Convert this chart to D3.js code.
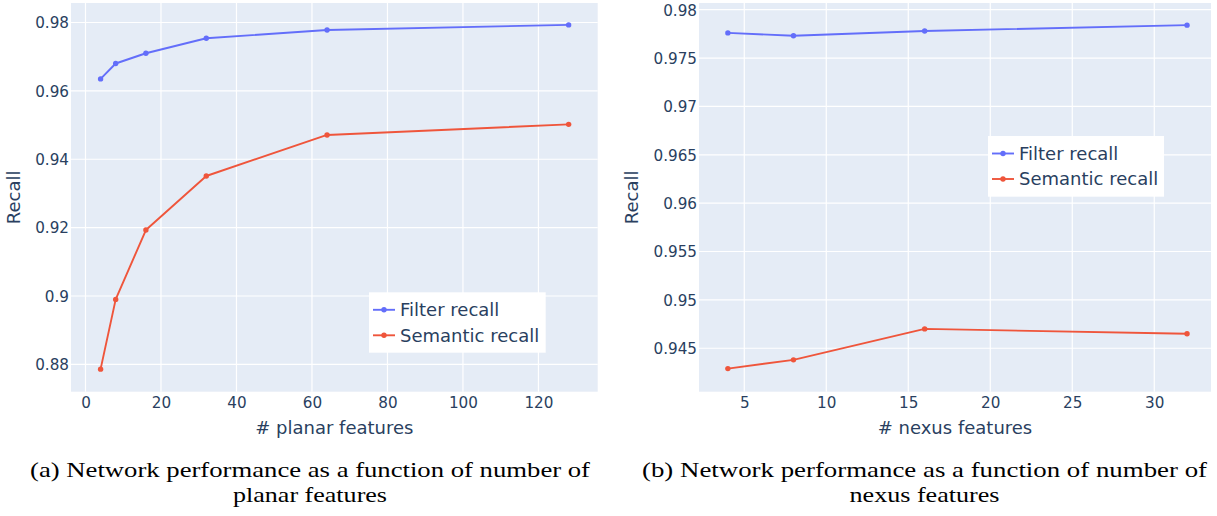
<!DOCTYPE html>
<html>
<head>
<meta charset="utf-8">
<script src="https://cdn.jsdelivr.net/npm/d3@7"></script>
<style>
  html, body { margin: 0; padding: 0; background: #ffffff; }
  svg { display: block; }
</style>
</head>
<body>
<svg id="chart" width="1217" height="516"></svg>
<script>
// ---------- data ----------
const seriesNames = ["Filter recall", "Semantic recall"];

const planarX = [4, 8, 16, 32, 64, 128];
const planarFilter = [0.9635, 0.9680, 0.9710, 0.9754, 0.9778, 0.9793];
const planarSemantic = [0.8786, 0.8990, 0.9193, 0.9351, 0.9471, 0.9502];

const nexusX = [4, 8, 16, 32];
const nexusFilter = [0.9776, 0.9773, 0.9778, 0.9784];
const nexusSemantic = [0.9429, 0.9438, 0.9470, 0.9465];

const planarXTicks = [0, 20, 40, 60, 80, 100, 120];
const planarXTickLabels = ["0", "20", "40", "60", "80", "100", "120"];
const planarYTicks = [0.88, 0.90, 0.92, 0.94, 0.96, 0.98];
const planarYTickLabels = ["0.88", "0.9", "0.92", "0.94", "0.96", "0.98"];

const nexusXTicks = [5, 10, 15, 20, 25, 30];
const nexusXTickLabels = ["5", "10", "15", "20", "25", "30"];
const nexusYTicks = [0.945, 0.95, 0.955, 0.96, 0.965, 0.97, 0.975, 0.98];
const nexusYTickLabels = ["0.945", "0.95", "0.955", "0.96", "0.965", "0.97", "0.975", "0.98"];

const xTitles = ["# planar features", "# nexus features"];
const yTitle = "Recall";
const captionsLine1 = ["(a) Network performance as a function of number of",
                       "(b) Network performance as a function of number of"];
const captionsLine2 = ["planar features", "nexus features"];

// ---------- style ----------
const COLORS = ["#636efa", "#ef553b"];
const BG = "#e5ecf6";
const TXT = "#2a3f5f";
const FONT = "'DejaVu Sans', sans-serif";

const svg = d3.select("#chart");

function panel(cfg) {
  const x = d3.scaleLinear().domain(cfg.xDomain).range([cfg.left, cfg.right]);
  const y = d3.scaleLinear().domain(cfg.yDomain).range([cfg.bottom, cfg.top]);
  const g = svg.append("g");

  g.append("rect")
    .attr("x", cfg.left).attr("y", cfg.top)
    .attr("width", cfg.right - cfg.left).attr("height", cfg.bottom - cfg.top)
    .attr("fill", BG);

  // gridlines
  g.append("g").selectAll("line").data(cfg.xTicks).join("line")
    .attr("x1", d => x(d)).attr("x2", d => x(d))
    .attr("y1", cfg.top).attr("y2", cfg.bottom)
    .attr("stroke", "#fff").attr("stroke-width", 1.2);
  g.append("g").selectAll("line").data(cfg.yTicks).join("line")
    .attr("y1", d => y(d)).attr("y2", d => y(d))
    .attr("x1", cfg.left).attr("x2", cfg.right)
    .attr("stroke", "#fff").attr("stroke-width", 1.2);

  // axes (labels only)
  const xa = g.append("g").attr("transform", `translate(0,${cfg.bottom})`)
    .call(d3.axisBottom(x).tickValues(cfg.xTicks)
      .tickFormat((d, i) => cfg.xTickLabels[i]).tickSize(0));
  xa.select(".domain").remove();
  xa.selectAll("text").attr("y", 11).attr("dy", "0.35em")
    .attr("font-family", FONT).attr("font-size", 15.2).attr("fill", TXT);

  const ya = g.append("g").attr("transform", `translate(${cfg.left},0)`)
    .call(d3.axisLeft(y).tickValues(cfg.yTicks)
      .tickFormat((d, i) => cfg.yTickLabels[i]).tickSize(0));
  ya.select(".domain").remove();
  ya.selectAll("text").attr("x", -2).attr("dy", "0.35em")
    .attr("font-family", FONT).attr("font-size", 15.2).attr("fill", TXT);

  // axis titles
  g.append("text")
    .attr("x", (cfg.left + cfg.right) / 2).attr("y", 428).attr("dy", "0.35em")
    .attr("text-anchor", "middle").attr("font-family", FONT)
    .attr("font-size", 18).attr("fill", TXT).text(cfg.xTitle);
  g.append("text")
    .attr("transform", `translate(${cfg.yTitleX},${(cfg.top + cfg.bottom) / 2}) rotate(-90)`)
    .attr("dy", "0.35em")
    .attr("text-anchor", "middle").attr("font-family", FONT)
    .attr("font-size", 18).attr("fill", TXT).text(yTitle);

  // series
  const line = d3.line().x(d => x(d[0])).y(d => y(d[1]));
  cfg.series.forEach((vals, si) => {
    const pts = cfg.xs.map((xv, i) => [xv, vals[i]]);
    g.append("path").datum(pts)
      .attr("d", line).attr("fill", "none")
      .attr("stroke", COLORS[si]).attr("stroke-width", 1.9)
      .attr("stroke-linejoin", "round");
    g.append("g").selectAll("circle").data(pts).join("circle")
      .attr("cx", d => x(d[0])).attr("cy", d => y(d[1])).attr("r", 2.7)
      .attr("fill", COLORS[si]);
  });

  // legend
  const L = cfg.legend;
  const lg = g.append("g");
  lg.append("rect").attr("x", L.x).attr("y", L.y).attr("width", L.w).attr("height", L.h)
    .attr("fill", "#ffffff");
  seriesNames.forEach((name, i) => {
    const cy = L.y + 17.5 + i * 25.5;
    lg.append("line").attr("x1", L.x + 4).attr("x2", L.x + 26)
      .attr("y1", cy).attr("y2", cy).attr("stroke", COLORS[i]).attr("stroke-width", 1.9);
    lg.append("circle").attr("cx", L.x + 15).attr("cy", cy).attr("r", 2.7).attr("fill", COLORS[i]);
    lg.append("text").attr("x", L.x + 31).attr("y", cy).attr("dy", "0.35em")
      .attr("font-family", FONT).attr("font-size", 18).attr("fill", TXT).text(name);
  });

  // caption
  const cap = g.append("g").attr("font-family", "'Liberation Serif', 'Times New Roman', serif")
    .attr("font-size", 22).attr("fill", "#000");
  cap.append("text").attr("x", cfg.capCx - cfg.capW1 / 2).attr("y", 477)
    .attr("textLength", cfg.capW1).attr("lengthAdjust", "spacingAndGlyphs")
    .text(cfg.cap1);
  cap.append("text").attr("x", cfg.capCx - cfg.capW2 / 2).attr("y", 502)
    .attr("textLength", cfg.capW2).attr("lengthAdjust", "spacingAndGlyphs")
    .text(cfg.cap2);
}

panel({
  left: 71, right: 597.7, top: 3, bottom: 391.7,
  xDomain: [-3.84, 135.7], yDomain: [0.87201, 0.98570],
  xTicks: planarXTicks, xTickLabels: planarXTickLabels,
  yTicks: planarYTicks, yTickLabels: planarYTickLabels,
  xTitle: xTitles[0], yTitleX: 14,
  xs: planarX, series: [planarFilter, planarSemantic],
  legend: { x: 369, y: 292.3, w: 176.7, h: 60.4 },
  capCx: 310, capW1: 560, capW2: 154,
  cap1: captionsLine1[0], cap2: captionsLine2[0]
});

panel({
  left: 699, right: 1211, top: 3, bottom: 391.7,
  xDomain: [2.24, 33.46], yDomain: [0.94051, 0.98069],
  xTicks: nexusXTicks, xTickLabels: nexusXTickLabels,
  yTicks: nexusYTicks, yTickLabels: nexusYTickLabels,
  xTitle: xTitles[1], yTitleX: 632,
  xs: nexusX, series: [nexusFilter, nexusSemantic],
  legend: { x: 988, y: 136, w: 176, h: 60.7 },
  capCx: 924.5, capW1: 565, capW2: 150,
  cap1: captionsLine1[1], cap2: captionsLine2[1]
});
</script>
</body>
</html>
